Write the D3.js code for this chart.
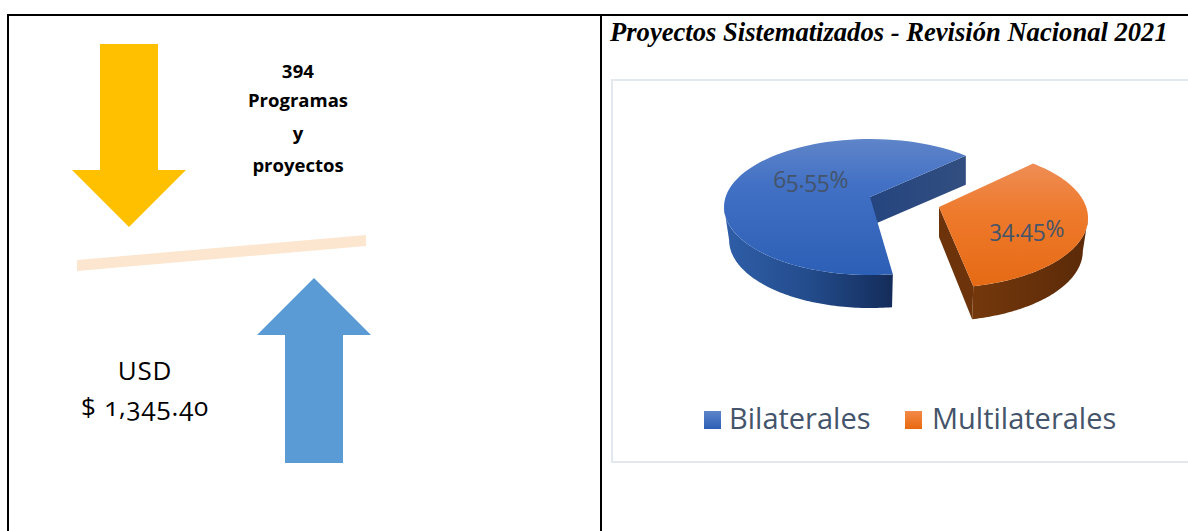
<!DOCTYPE html>
<html><head><meta charset="utf-8">
<script src="https://cdn.jsdelivr.net/npm/d3@7"></script>
<style>
html,body{margin:0;padding:0;background:#fff}
svg{display:block}
.sans{font-family:"Open Sans","Noto Sans",sans-serif;font-feature-settings:"onum" 1,"lnum" 0}
</style></head><body>
<svg id="c" width="1188" height="531"></svg>
<script>
const categories = ["Bilaterales", "Multilaterales"];
const shares = [65.55, 34.45];
const shareLabels = ["65.55%", "34.45%"];
const title = "Proyectos Sistematizados - Revisión Nacional 2021";
const programLines = ["394", "Programas", "y", "proyectos"];
const amountLines = ["USD", "$ 1,345.40"];

const svg = d3.select("#c");
const defs = svg.append("defs");
function grad(id, x2, y2, stops){
  const g = defs.append("linearGradient").attr("id", id).attr("x1",0).attr("y1",0).attr("x2",x2).attr("y2",y2);
  stops.forEach(([o,c]) => g.append("stop").attr("offset",o).attr("stop-color",c));
}
grad("topB",0,1,[[0,"#5f85c9"],[0.35,"#4170c4"],[1,"#2c5fb6"]]);
grad("topO",0,1,[[0,"#ee8d55"],[0.4,"#ee7a2c"],[1,"#e66a14"]]);
grad("wallB",1,0,[[0,"#2f5ea8"],[0.5,"#234c8c"],[1,"#142c5a"]]);
grad("wallO",1,0,[[0,"#74380c"],[1,"#5b2a08"]]);
grad("cutB",1,0,[[0,"#25457f"],[1,"#324e80"]]);
grad("legB",0,1,[[0,"#5f85c9"],[1,"#2c5fb6"]]);
grad("legO",0,1,[[0,"#f38a48"],[1,"#e8690f"]]);

// table frame
const frame = svg.append("g").attr("stroke","#000").attr("stroke-width",2);
frame.append("line").attr("x1",7).attr("x2",1188).attr("y1",15).attr("y2",15);
frame.append("line").attr("x1",8).attr("x2",8).attr("y1",15).attr("y2",531);
frame.append("line").attr("x1",601).attr("x2",601).attr("y1",15).attr("y2",531);

// left panel
svg.append("polygon").attr("fill","#ffc000")
  .attr("points","100,44 158,44 158,170 186,170 129,227 72,170 100,170");
svg.append("polygon").attr("fill","#5b9bd5")
  .attr("points","314,278 371,335 343,335 343,463 285,463 285,335 257,335");
svg.append("polygon").attr("fill","#fde6cf")
  .attr("points","77,260 366,235 366,246 77,271");

const progY = [75,107,140,172];
svg.append("g").selectAll("text").data(programLines).join("text")
  .attr("class","sans").attr("x",298).attr("y",(d,i)=>progY[i])
  .attr("text-anchor","middle").attr("font-size",18.5).attr("font-weight",700).attr("fill","#000").text(d=>d);
const amtY = [380,416];
svg.append("g").selectAll("text").data(amountLines).join("text")
  .attr("class","sans").attr("x",145).attr("y",(d,i)=>amtY[i])
  .attr("text-anchor","middle").attr("font-size",26).attr("letter-spacing",0.8).attr("fill","#000").text(d=>d);

// right panel
svg.append("text").attr("x",610).attr("y",41).attr("font-family","Liberation Serif")
  .attr("font-style","italic").attr("font-weight",700).attr("font-size",26.6).attr("fill","#000").text(title);
svg.append("rect").attr("x",612).attr("y",80).attr("width",590).attr("height",382)
  .attr("fill","#fff").attr("stroke","#e3e7ee").attr("stroke-width",2);

// 3D pie: slice angles come from d3.pie, then are warped to the foreshortened view
const deg = Math.PI/180;
const arcs = d3.pie().sort(null)(shares);
const views = [
  {cx:870, cy:207, rx:146, ry:68, ax:870, ay:197, view:d3.scaleLinear().domain([arcs[0].startAngle,arcs[0].endAngle]).range([171*deg,401*deg])},
  {cx:940, cy:218, rx:148, ry:70, ax:939, ay:207, view:d3.scaleLinear().domain([arcs[1].startAngle,arcs[1].endAngle]).range([399*deg,527*deg])}
];
const depth = 33;
const taper = 0.035; // the base ellipse is slightly narrower than the top one
const rim = (v,a,dz=0) => [v.cx+v.rx*Math.sin(a)*(1-taper*dz/depth), v.cy-v.ry*Math.cos(a)+dz];
const apex = (v,dz=0) => [v.ax, v.ay+dz];
const line = d3.line();
const along = (v,a0,a1,dz) => d3.range(81).map(i => rim(v,a0+(a1-a0)*i/80,dz));
const pie = svg.append("g");
const [vB,vO] = views;
const bStart = vB.view(arcs[0].startAngle), bEnd = vB.view(arcs[0].endAngle);
const oStart = vO.view(arcs[1].startAngle), oEnd = vO.view(arcs[1].endAngle);
// blue cut wall
pie.append("path").attr("fill","url(#cutB)")
  .attr("d",line([apex(vB),[rim(vB,bEnd)[0],rim(vB,bEnd)[1]],[rim(vB,bEnd)[0],rim(vB,bEnd)[1]+29],apex(vB,29)])+"Z");
// blue outer wall
pie.append("path").attr("fill","url(#wallB)")
  .attr("d",line([...along(vB,bStart,270*deg,0),...along(vB,270*deg,bStart,depth)])+"Z");
// orange cut wall
pie.append("path").attr("fill","#6d340c")
  .attr("d",line([apex(vO),rim(vO,oEnd),rim(vO,oEnd,depth),apex(vO,30)])+"Z");
// orange outer wall
pie.append("path").attr("fill","url(#wallO)")
  .attr("d",line([...along(vO,450*deg,oEnd,0),...along(vO,oEnd,450*deg,depth)])+"Z");
// top faces
const tops = ["url(#topB)","url(#topO)"];
pie.selectAll("path.top").data(arcs).join("path").attr("class","top")
  .attr("fill",(d,i)=>tops[i])
  .attr("d",(d,i)=>{const v=views[i];return line([apex(v),...along(v,v.view(d.startAngle),v.view(d.endAngle),0)])+"Z";});

// data labels
const labelPos = [[811,188],[1027,237]];
svg.append("g").selectAll("text").data(shareLabels).join("text")
  .attr("class","sans").attr("x",(d,i)=>labelPos[i][0]).attr("y",(d,i)=>labelPos[i][1])
  .attr("text-anchor","middle").attr("font-size",23).attr("fill","#44546a").text(d=>d);

// legend
const legendX = [704,905], legendFill = ["url(#legB)","url(#legO)"];
const leg = svg.append("g").selectAll("g").data(categories).join("g")
  .attr("transform",(d,i)=>`translate(${legendX[i]},411)`);
leg.append("rect").attr("width",17).attr("height",18).attr("fill",(d,i)=>legendFill[i]);
leg.append("text").attr("class","sans").attr("x",(d,i)=>i?27:25).attr("y",18).attr("font-size",29).attr("fill","#44546a").text(d=>d);
</script>
</body></html>
